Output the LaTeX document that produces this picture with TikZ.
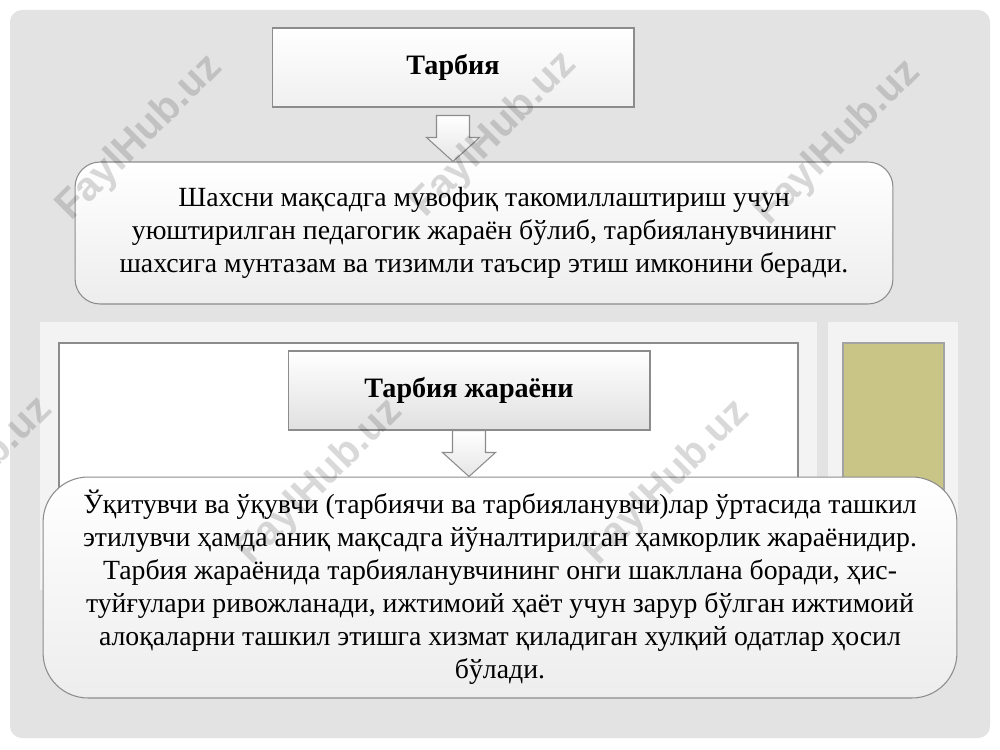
\documentclass[tikz,border=0pt]{standalone}
\usepackage{fontspec}
\setmainfont{Liberation Serif}
\newfontfamily\wmfont{Liberation Sans}
\usepackage{tikz}
\usetikzlibrary{calc}
\usetikzlibrary{positioning}

\definecolor{slidegray}{HTML}{E3E3E3}
\definecolor{panelgray}{HTML}{F3F3F3}
\definecolor{boxline}{HTML}{8C8C8C}
\definecolor{olivebox}{HTML}{C8C586}

% block arrow from the bottom of one node to the top of the next
\newcommand{\blockdown}[3]{%
\draw[blockarr] let \p1=(#1.south), \p2=(#2.north) in
(\x1-0.33cm,\y1-#3) -- (\x1+0.33cm,\y1-#3) -- (\x1+0.33cm,\y2+0.48cm) -- (\x1+0.53cm,\y2+0.48cm)
-- (\x1,\y2) -- (\x1-0.53cm,\y2+0.48cm) -- (\x1-0.33cm,\y2+0.48cm) -- cycle;}

\begin{document}
\begin{tikzpicture}[x=0.02cm, y=-0.02cm,
headbox/.style={draw=boxline, line width=0.6pt, top color=white, bottom color=#1,
  minimum width=7.24cm, minimum height=1.58cm, inner sep=0pt,
  font=\fontsize{16}{19}\selectfont\bfseries},
textbox/.style={draw=boxline, line width=0.6pt, rounded corners=#1, top color=white,
  bottom color=gray!14, align=center, inner sep=0pt, font=\fontsize{15.8}{18.8}\selectfont},
blockarr/.style={draw=boxline, line width=0.6pt, top color=white, bottom color=gray!20},
wm/.style={font=\wmfont\bfseries\fontsize{23}{23}\selectfont, text=black, text opacity=0.15, rotate=45}]
\useasboundingbox (0,0) rectangle (1000,750);
\fill[white] (0,0) rectangle (1000,750);
\fill[slidegray, rounded corners=0.24cm] (10,10) rectangle (990,738);

\node[headbox=gray!12] (tarbiya) at (453,67.5) {Тарбия};
\node[textbox=0.5cm, minimum width=16.36cm, minimum height=2.84cm] (tarbdef) at (484,233)
{Шахсни мақсадга мувофиқ такомиллаштириш учун\\
уюштирилган педагогик жараён бўлиб, тарбияланувчининг\\
шахсига мунтазам ва тизимли таъсир этиш имконини беради.};

% lower panel
\fill[panelgray] (40,322) rectangle (817,590);
\fill[panelgray] (828,322) rectangle (958,590);
\draw[boxline, line width=0.6pt, fill=white] (59,343) rectangle (798,580);
\draw[boxline!80, line width=0.6pt, fill=olivebox] (843,343) rectangle (944,580);

\node[headbox=gray!24] (jarayon) at (469,390.5) {Тарбия жараёни};
\node[textbox=0.9cm, minimum width=18.28cm, minimum height=4.42cm] (jardef) at (500,587.5)
{Ўқитувчи ва ўқувчи (тарбиячи ва тарбияланувчи)лар ўртасида ташкил\\
этилувчи ҳамда аниқ мақсадга йўналтирилган ҳамкорлик жараёнидир.\\
Тарбия жараёнида тарбияланувчининг онги шаклланa боради, ҳис-\\
туйғулари ривожланади, ижтимоий ҳаёт учун зарур бўлган ижтимоий\\
алоқаларни ташкил этишга хизмат қиладиган хулқий одатлар ҳосил\\
бўлади.};

\blockdown{tarbiya}{tarbdef}{0.16cm}
\blockdown{jarayon}{jardef}{0cm}

% watermark
\node[wm] (wm1) at (140,138) {FaylHub.uz};
\node[wm] (wm2) at (494,135) {FaylHub.uz};
\node[wm] (wm3) at (838,143) {FaylHub.uz};
\node[wm] (wm4) at (-30,480) {FaylHub.uz};
\node[wm] (wm5) at (320,482) {FaylHub.uz};
\node[wm] (wm6) at (667,483) {FaylHub.uz};
\end{tikzpicture}
\end{document}
